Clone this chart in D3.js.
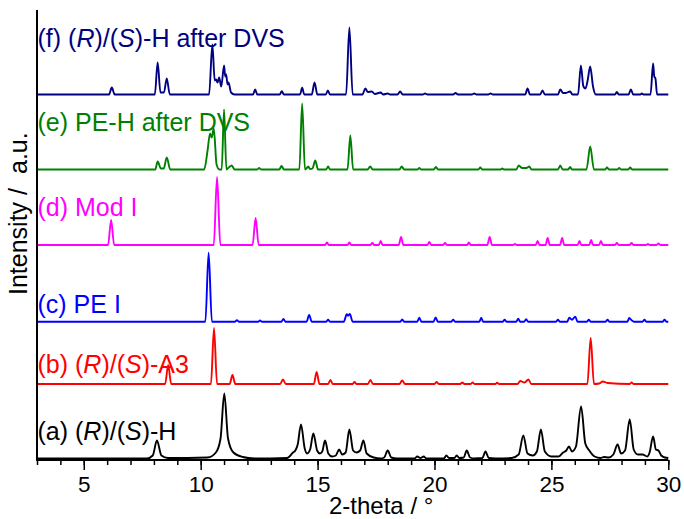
<!DOCTYPE html>
<html>
<head>
<meta charset="utf-8">
<script src="https://cdn.jsdelivr.net/npm/d3@7/dist/d3.min.js"></script>
<style>
html,body{margin:0;padding:0;background:#fff;}
svg{display:block;font-family:"Liberation Sans",Arial,sans-serif;}
</style>
</head>
<body>
<svg id="chart" width="684" height="519"></svg>
<script>
// ---- data (2-theta in degrees, intensity in a.u.) ----
const traceA = [[3,0],[7.7,0],[7.95,3],[8.13,18],[8.32,3],[8.6,0.5],
[10.3,1],[10.65,6],[10.85,20],[11.01,65],[11.17,20],[11.4,6],[11.8,1.5],[12.3,0],
[13.7,0.5],[13.95,6],[14.05,8],[14.15,14],[14.29,34],[14.45,10],[14.55,5],[14.68,9],[14.82,25],[14.98,8],[15.1,5],[15.2,7],[15.32,18],[15.46,5],[15.62,2],[15.78,3],[15.92,9],[16.05,4],[16.2,6],[16.36,29],[16.52,8],[16.66,6],[16.82,8],[16.96,18],[17.1,5],[17.4,1],[17.7,0],
[17.85,1],[18.0,8],[18.15,1],[18.4,0],
[19.15,0],[19.26,2],[19.4,0.5],[19.54,2],[19.65,0],
[20.4,0],[20.51,3],[20.62,0.5],[20.85,0.5],[20.95,3],[21.06,0.5],[21.25,1],[21.38,8],[21.52,1],[21.7,0],
[22.05,0.5],[22.18,7],[22.32,0.5],[22.6,0],
[23.3,0.5],[23.6,4],[23.8,23],[23.98,5],[24.2,3],[24.38,7],[24.55,29],[24.72,7],[25.0,2],[25.3,2],[25.5,6],[25.64,8],[25.75,12],[25.88,7],[26.05,12],[26.27,52],[26.45,15],[26.62,8],[26.85,2],[27.1,0.5],[27.25,1.5],[27.45,1],[27.65,4],[27.83,14],[27.98,5],[28.15,8],[28.35,39],[28.52,9],[28.7,4],[28.9,4],[29.1,2],[29.2,6],[29.35,22],[29.47,9],[29.58,8],[29.7,3],[29.85,1],[30,0.5]];

const traceB = [[3,0],[8.48,0],[8.61,19],[8.74,0],[10.44,0],[10.57,56],[10.7,0],[11.24,0],[11.36,9],[11.48,0],[13.4,0],[13.52,4.5],[13.64,0],[14.84,0],[14.96,12],[15.08,0],[15.45,0],[15.55,4],[15.65,0],[16.5,0],[16.58,2],[16.66,0],[17.15,0],[17.26,4],[17.37,0],[18.5,0],[18.62,3.5],[18.74,0],[20.0,0],[20.09,2],[20.18,0],[21.1,0],[21.19,1.5],[21.28,0],[21.55,0],[21.63,1.5],[21.71,0],[22.6,0],[22.68,1.2],[22.76,0],[23.55,0],[23.67,3],[23.85,1.5],[24.02,4.5],[24.14,0],[26.54,0],[26.68,46],[26.82,0],[27.05,0.5],[27.2,2.5],[27.4,1],[28.35,0],[28.43,1.5],[28.51,0],[30,0]];

const traceC = [[3,0],[10.2,0],[10.34,69],[10.48,0],[11.47,0],[11.55,1.5],[11.63,0],[12.46,0],[12.54,1.3],[12.62,0],[13.45,0],[13.54,2.7],[13.63,0],[14.53,0],[14.64,6.7],[14.75,0],[15.37,0],[15.45,2],[15.53,0],[16.12,0],[16.25,7.5],[16.31,6],[16.38,7.7],[16.5,0],[18.54,0],[18.62,2.3],[18.7,0],[19.26,0],[19.35,4],[19.44,0],[19.96,0],[20.05,4.3],[20.14,0],[20.72,0],[20.8,2],[20.88,0],[21.92,0],[22.0,4],[22.08,0],[22.92,0],[23.0,2],[23.08,0],[23.5,0],[23.58,3],[23.66,0],[23.84,0],[23.92,2.5],[24.0,0],[25.2,0],[25.28,2],[25.36,0],[25.68,0],[25.76,4],[25.88,2],[26.02,5],[26.12,0],[26.52,0],[26.6,2],[26.68,0],[27.32,0],[27.4,2],[27.48,0],[28.25,0],[28.33,3.7],[28.43,1.5],[28.53,0],[28.9,0],[28.98,2],[29.06,0],[29.76,0],[29.84,2],[29.92,0],[30,0]];

const traceD = [[3,0],[6.04,0],[6.17,25],[6.3,0],[10.56,0],[10.7,68],[10.84,0],[12.22,0],[12.35,27],[12.48,0],[15.32,0],[15.4,2.5],[15.48,0],[16.28,0],[16.36,2.5],[16.44,0],[17.26,0],[17.34,2],[17.42,0],[17.62,0],[17.7,4],[17.78,0],[18.47,0],[18.57,8],[18.67,0],[19.7,0],[19.78,3],[19.86,0],[20.37,0],[20.45,2],[20.53,0],[21.4,0],[21.47,2.5],[21.55,0],[22.26,0],[22.36,8],[22.46,0],[23.36,0],[23.44,1],[23.52,0],[24.33,0],[24.41,4],[24.49,0],[24.75,0],[24.84,7],[24.93,0],[25.37,0],[25.46,7],[25.55,0],[26.12,0],[26.2,4],[26.28,0],[26.62,0],[26.7,5],[26.78,0],[27.04,0],[27.12,4],[27.2,0],[27.72,0],[27.8,2],[27.88,0],[28.35,0],[28.43,2],[28.51,0],[29.05,0],[29.13,1],[29.21,0],[29.5,0],[29.58,1.5],[29.66,0],[30,0]];

const traceE = [[3,0],[8.06,0],[8.16,8],[8.3,1],[8.42,1],[8.55,12],[8.7,0],[10.15,0],[10.3,20],[10.4,36],[10.47,32],[10.56,41],[10.68,5],[10.8,0],[10.9,0],[11.0,60],[11.1,0],[11.2,2],[11.33,4],[11.45,0],[12.42,0],[12.5,1.5],[12.58,0],[13.36,0],[13.46,3.5],[13.56,0],[14.22,0],[14.34,66],[14.46,0],[14.52,1],[14.6,3],[14.68,0.5],[14.78,1],[14.9,9],[15.02,0],[15.37,0],[15.45,3],[15.53,0],[16.28,0],[16.4,34],[16.52,0],[17.14,0],[17.25,3],[17.36,0],[18.5,0],[18.6,3],[18.7,0],[19.28,0],[19.35,1.5],[19.42,0],[19.97,0],[20.06,2.5],[20.15,0],[21.88,0],[21.96,2],[22.04,0],[22.83,0],[22.9,1],[22.97,0],[23.5,0],[23.6,4],[23.75,1.5],[23.93,1.5],[24.05,3],[24.15,0],[25.28,0],[25.38,4],[25.48,0],[25.72,0],[25.8,2.5],[25.88,0],[26.5,0],[26.66,23],[26.82,0],[27.3,0],[27.38,2],[27.46,0],[27.83,0],[27.9,1.5],[27.97,0],[28.29,0],[28.37,2],[28.45,0],[30,0]];

const traceF = [[3,0],[6.08,0],[6.2,7],[6.32,0],[8.04,0],[8.16,32],[8.28,2],[8.43,2],[8.55,16],[8.68,0],[10.36,0],[10.5,50],[10.6,14],[10.66,15],[10.72,12],[10.79,17],[10.88,8],[11.0,29],[11.05,18],[11.09,20],[11.15,10],[11.19,12],[11.3,2],[11.45,0],[12.24,0],[12.33,5],[12.42,0],[13.38,0],[13.47,3.3],[13.56,0],[14.25,0],[14.34,6.7],[14.43,0],[14.75,0],[14.87,12],[14.99,0],[15.35,0],[15.44,4],[15.53,0],[16.22,0],[16.36,67],[16.5,0],[16.92,0],[17.04,6],[17.15,2.5],[17.32,3],[17.45,0.5],[17.7,2],[17.8,0],[18.0,1],[18.1,0],[18.42,0],[18.53,3],[18.64,0],[19.5,0],[19.6,1],[19.7,0],[20.8,0],[20.9,1.5],[21.0,0],[21.6,0],[21.7,1],[21.8,0],[22.3,0],[22.4,1],[22.5,0],[23.88,0],[23.98,6],[24.08,0],[24.52,0],[24.62,4],[24.72,0],[25.28,0],[25.38,5],[25.5,1.5],[25.6,1.5],[25.8,3],[25.9,0],[26.14,0],[26.26,29],[26.37,8],[26.46,6],[26.55,14],[26.66,28],[26.78,8],[26.9,0],[27.72,0],[27.8,2.5],[27.88,0],[28.3,0],[28.4,5],[28.5,0],[28.8,0],[28.87,1],[28.94,0],[29.24,0],[29.35,31],[29.4,18],[29.45,16],[29.52,0],[30,0]];

const traces = [traceA, traceB, traceC, traceD, traceE, traceF];
const offsets = [0, 74.5, 136.8, 213.5, 289, 364];
const colors = ["#000000", "#ff0000", "#0000ff", "#ff00ff", "#008000", "#000080"];
const labels = [
  [["(a) (",""],["R","i"],[")/(",""],["S","i"],[")-H",""]],
  [["(b) (",""],["R","i"],[")/(",""],["S","i"],[")-A3",""]],
  [["(c) PE I",""]],
  [["(d) Mod I",""]],
  [["(e) PE-H after DVS",""]],
  [["(f) (",""],["R","i"],[")/(",""],["S","i"],[")-H after DVS",""]]
];
const xTicks = [5, 10, 15, 20, 25, 30];
const xMinorTicks = d3.range(3, 31, 1);
const xDomain = [3, 30];
const xTitle = "2-theta / \u00b0";
const yTitle = ["Intensity /", "a.u."];

// ---- drawing ----
const svg = d3.select("#chart");
const x = d3.scaleLinear().domain(xDomain).range([37, 668.3]);
const y = d3.scaleLinear().domain([0, 455]).range([458.5, 3.5]);
const labelY = [440, 373, 313, 216, 131, 47];

// labels
labels.forEach((parts, i) => {
  const t = svg.append("text")
    .attr("x", 37.5).attr("y", labelY[i])
    .attr("fill", colors[i])
    .attr("font-size", 25)
    .attr("xml:space", "preserve")
    .style("white-space", "pre");
  parts.forEach(p => {
    t.append("tspan").text(p[0]).attr("font-style", p[1] === "i" ? "italic" : "normal");
  });
});

// traces
traces.forEach((tr, i) => {
  const line = d3.line()
    .x(d => x(d[0]))
    .y(d => y(offsets[i] + d[1]))
    .curve(d3.curveMonotoneX);
  svg.append("path")
    .attr("d", line(tr))
    .attr("fill", "none")
    .attr("stroke", colors[i])
    .attr("stroke-width", 1.9)
    .attr("stroke-linejoin", "round");
});

// axes
const axisY = 460;
const gx = svg.append("g").attr("transform", `translate(0,${axisY})`);
gx.call(d3.axisBottom(x).tickValues(xMinorTicks).tickSize(5).tickFormat(""))
  .call(g => g.select(".domain").remove());
gx.selectAll("line").attr("stroke", "#000").attr("stroke-width", 1.5);
const gx2 = svg.append("g").attr("transform", `translate(0,${axisY})`);
gx2.call(d3.axisBottom(x).tickValues(xTicks).tickSize(10).tickPadding(6).tickFormat(d3.format("d")))
  .call(g => g.select(".domain").remove());
gx2.selectAll("line").attr("stroke", "#000").attr("stroke-width", 1.5);
gx2.selectAll("text").attr("font-size", 22.5).attr("fill", "#000")
  .attr("font-family", "Liberation Sans, Arial, sans-serif");

svg.append("line").attr("x1", x(3)).attr("x2", x(30)).attr("y1", axisY).attr("y2", axisY)
  .attr("stroke", "#000").attr("stroke-width", 2);
svg.append("line").attr("x1", x(3)).attr("x2", x(3)).attr("y1", 10).attr("y2", axisY + 1)
  .attr("stroke", "#000").attr("stroke-width", 2);

// axis titles
svg.append("text").attr("x", 329).attr("y", 514)
  .attr("font-size", 24).attr("fill", "#000").text(xTitle);
const yt = svg.append("text").attr("transform", "translate(27,295) rotate(-90)")
  .attr("font-size", 25).attr("fill", "#000");
yt.append("tspan").attr("x", 0).text(yTitle[0]);
yt.append("tspan").attr("dx", 14).text(yTitle[1]);
</script>
</body>
</html>
